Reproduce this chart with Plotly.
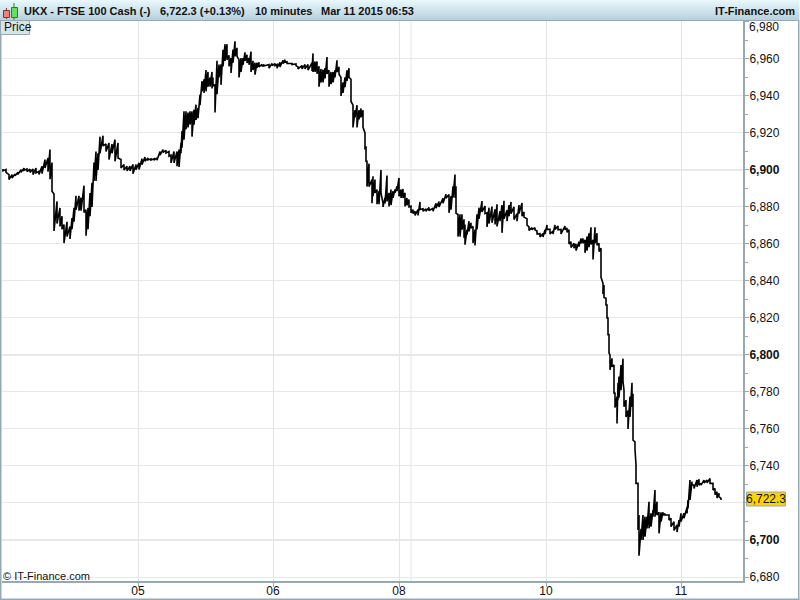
import plotly.graph_objects as go

# bar position, session high and low
bars = [
    3, 6, 9, 12, 15, 18, 21, 24, 27, 30, 33, 36, 39, 42, 45, 48, 50, 52, 54, 57,
    60, 62, 64, 67, 70, 72, 74, 76, 79, 81, 84, 86, 88, 90, 92, 94, 96, 98, 100, 103,
    106, 109, 112, 115, 118, 121, 124, 127, 130, 133, 136, 139, 142, 145, 148, 151, 154, 157, 160, 163,
    166, 169, 171, 174, 177, 179, 181, 182, 184, 186, 188, 190, 192, 194, 196, 198, 200, 202, 204, 206,
    208, 210, 212, 213, 215, 217, 219, 221, 223, 225, 227, 229, 231, 233, 235, 237, 239, 241, 243, 245,
    247, 249, 251, 253, 255, 257, 259, 262, 264, 269, 272, 275, 277, 280, 283, 285, 287, 292, 296, 298,
    302, 305, 308, 312, 313, 315, 317, 319, 321, 323, 325, 327, 329, 331, 333, 335, 337, 339, 341, 343,
    345, 347, 349, 351, 353, 355, 357, 359, 361, 363, 365, 366, 367, 369, 372, 373, 375, 377, 379, 381,
    383, 385, 387, 389, 391, 393, 395, 397, 399, 401, 403, 405, 407, 409, 411, 413, 415, 418, 420, 423,
    426, 429, 433, 436, 439, 443, 446, 449, 451, 453, 455, 456, 458, 460, 462, 464, 465, 467, 469, 471,
    473, 475, 477, 479, 482, 485, 487, 489, 492, 495, 497, 500, 502, 504, 507, 509, 511, 514, 517, 519,
    522, 524, 527, 529, 532, 535, 537, 540, 543, 545, 547, 550, 553, 555, 558, 561, 565, 567, 569, 571,
    574, 576, 579, 581, 583, 585, 587, 589, 591, 593, 595, 597, 599, 601, 603, 604, 606, 607, 608, 609,
    610, 612, 614, 615, 617, 618, 619, 621, 623, 624, 626, 628, 630, 632, 633, 635, 636, 638, 639, 641,
    643, 645, 647, 649, 651, 653, 655, 657, 659, 661, 663, 665, 669, 671, 674, 677, 679, 681, 684, 687,
    688, 690, 692, 694, 697, 699, 701, 704, 707, 710, 713, 715, 717, 719, 721,
]
highs = [
    6900.5, 6900.2, 6897.5, 6897.5, 6897.8, 6898.7, 6900.2, 6901, 6900.5, 6900.5, 6900.5, 6901, 6899.3, 6902, 6905.6, 6906.5, 6911, 6904, 6887, 6883,
    6879.5, 6875, 6870.5, 6872, 6869.5, 6874, 6879.5, 6886, 6886, 6885, 6891.5, 6878.5, 6879.5, 6887.5, 6893, 6904, 6910, 6909, 6918, 6918.5,
    6914, 6914.6, 6914, 6916.4, 6914.6, 6905.6, 6903, 6902, 6902, 6903, 6903, 6903.8, 6906, 6907, 6906.5, 6906, 6906, 6906.5, 6910, 6911,
    6910.6, 6910, 6908, 6910, 6910, 6911, 6914.6, 6921, 6931.7, 6931.7, 6931, 6931.7, 6931.7, 6932.6, 6935.3, 6933.5, 6940.7, 6948, 6949, 6954,
    6953, 6950, 6953, 6950, 6946, 6959, 6957, 6957, 6965, 6968, 6968, 6962, 6960.5, 6965, 6969.5, 6966, 6959.6, 6960.5, 6960.5, 6963.6,
    6962.3, 6960.5, 6964, 6959, 6958, 6958, 6958.2, 6957, 6957, 6957, 6957.5, 6957.5, 6957, 6958.2, 6959.3, 6959.6, 6958.5, 6957.5, 6957.3, 6955.7,
    6956.4, 6957, 6957, 6957.8, 6963, 6958.6, 6958.6, 6956, 6954.6, 6954.2, 6955, 6961, 6953.9, 6953, 6953, 6953.9, 6959.3, 6955.7, 6950, 6947.3,
    6950, 6953.9, 6955, 6949, 6935, 6932.3, 6935, 6932.3, 6933.2, 6932.3, 6920, 6912.8, 6904.7, 6903.4, 6894.8, 6896.6, 6894.8, 6889.4, 6888.5, 6900,
    6882, 6885, 6897, 6887.6, 6889.4, 6888.5, 6889.4, 6891.2, 6895.7, 6889.4, 6889.7, 6887.6, 6884.9, 6884, 6880.4, 6878.6, 6877.7, 6878.6, 6882.7, 6879,
    6879, 6879.7, 6879.3, 6882, 6882.9, 6884.7, 6886.9, 6886.7, 6885.8, 6891.2, 6897.5, 6891.2, 6876, 6876, 6876, 6873.3, 6870.5, 6867.8, 6872.3, 6871.4,
    6869.5, 6867.8, 6876, 6879.6, 6883.2, 6880.5, 6876.9, 6879.6, 6880.2, 6878.7, 6881.4, 6877.7, 6881, 6883.3, 6878.2, 6881, 6882.7, 6880, 6876.4, 6881,
    6882.2, 6877.3, 6873.6, 6869.2, 6868.8, 6868.8, 6867, 6865.6, 6865.6, 6867.7, 6870.3, 6867.9, 6867, 6870.3, 6869.7, 6867.9, 6869.7, 6868.6, 6867.7, 6861.2,
    6860.4, 6860, 6861.2, 6863, 6863, 6862.2, 6864, 6865.8, 6869, 6862.2, 6869, 6865.8, 6860.4, 6857.7, 6838.7, 6837.8, 6830.6, 6827, 6820, 6811,
    6800, 6798.2, 6794.6, 6779.7, 6777.5, 6784.8, 6788.3, 6794.6, 6798, 6781, 6775.6, 6770, 6777.5, 6785, 6779, 6753, 6740.5, 6730.6, 6713.5, 6706,
    6713.5, 6712.6, 6712.6, 6720.7, 6714.4, 6716.2, 6727, 6720.7, 6715, 6715, 6715, 6714.2, 6713.5, 6711.7, 6709.9, 6708.1, 6710.8, 6714.4, 6714.4, 6717.6,
    6721.6, 6732.4, 6731.5, 6729.7, 6732.4, 6732.8, 6730.6, 6732.4, 6732.4, 6733.3, 6730.6, 6727.9, 6726.1, 6725.2, 6722.5,
]
lows = [
    6899.5, 6898.7, 6894.8, 6895.7, 6896.9, 6897.6, 6898.7, 6899.8, 6899.1, 6898.7, 6897.5, 6898.4, 6897.5, 6898, 6901, 6899, 6895, 6888.5, 6867, 6871,
    6869.5, 6868, 6860.5, 6864, 6862.7, 6868, 6872, 6878.5, 6878, 6878, 6877, 6864.5, 6868, 6875, 6880, 6894, 6894, 6900, 6909, 6913,
    6910, 6905.6, 6909, 6904.7, 6906.5, 6901, 6900, 6899.5, 6899.5, 6898, 6900.2, 6900.2, 6903, 6904.7, 6905.4, 6905.3, 6905.3, 6905.3, 6908, 6909.5,
    6909.2, 6907.4, 6903.8, 6903.8, 6902, 6901.6, 6909, 6912, 6916.4, 6922, 6923, 6924.5, 6918, 6924.5, 6927, 6928, 6935, 6942.5, 6941.6, 6942.5,
    6945, 6945, 6944, 6945.5, 6931, 6941, 6950, 6946, 6956, 6959, 6959.6, 6956, 6952.4, 6958, 6961.4, 6961.4, 6950, 6953, 6956.8, 6959,
    6957.8, 6956.8, 6953, 6954, 6951.5, 6955.2, 6955.7, 6956, 6956.2, 6955, 6956.4, 6956.4, 6955, 6955.7, 6957.5, 6958.2, 6957.5, 6957, 6956.4, 6954.6,
    6954.6, 6954.6, 6954, 6953.5, 6953, 6953, 6952, 6945, 6947.3, 6947.3, 6949.5, 6952, 6945, 6946.4, 6947.3, 6950, 6953, 6951.7, 6940, 6941.6,
    6944.7, 6948.2, 6950, 6937, 6923, 6928.4, 6923, 6927.4, 6928.4, 6923, 6911, 6904.7, 6891, 6891, 6882, 6885.8, 6887.6, 6881.5, 6881.5, 6887.6,
    6880, 6881.9, 6883, 6880.3, 6881, 6884.9, 6887.6, 6888.5, 6885.8, 6884.9, 6884.9, 6880.3, 6880.9, 6880, 6876.8, 6876.4, 6875.4, 6875.4, 6878.6, 6877.7,
    6877.7, 6878, 6877.7, 6879.3, 6880, 6882, 6884.7, 6876.8, 6878.5, 6885, 6885, 6876.6, 6864, 6864, 6867.7, 6863.3, 6859.6, 6865, 6866.8, 6868.6,
    6860.5, 6859.2, 6867.8, 6873.6, 6877.3, 6876.4, 6869.2, 6871, 6871.4, 6870.5, 6869.5, 6872.3, 6866, 6873.6, 6872.3, 6875, 6876.4, 6873.2, 6872.3, 6876.4,
    6875, 6874.5, 6870.2, 6867.3, 6867.7, 6867.6, 6865.5, 6863.8, 6863.8, 6865.4, 6867.9, 6865.4, 6865.4, 6867.9, 6867.7, 6865.4, 6867.7, 6866.3, 6860, 6858.1,
    6857.7, 6856.4, 6858.6, 6860.4, 6860.4, 6855.2, 6856.4, 6858.3, 6859.7, 6851.6, 6860.4, 6859.3, 6855.9, 6842, 6833, 6831.1, 6827, 6820, 6811, 6801,
    6792, 6793.7, 6779, 6771.6, 6763, 6775.8, 6776.9, 6781, 6785.6, 6772, 6766.5, 6760, 6766.5, 6772, 6754, 6749, 6730.6, 6705.4, 6691.5, 6700,
    6700, 6701.8, 6706.3, 6706.3, 6707.2, 6712.6, 6712.6, 6713.5, 6703.6, 6709.9, 6713.5, 6713.5, 6710.8, 6707.2, 6705.2, 6704.3, 6707.2, 6710, 6711.7, 6714.4,
    6717, 6721.6, 6729.7, 6727.9, 6728.8, 6729.7, 6729.7, 6730.9, 6730.9, 6730.6, 6727, 6724.5, 6722.7, 6723.4, 6721.6,
]

price_ticks = [6680, 6700, 6720, 6740, 6760, 6780, 6800, 6820, 6840, 6860, 6880, 6900, 6920, 6940, 6960, 6980]
heavy_prices = [6700, 6800, 6900]
# 6,720 sits behind the last-price badge, 6,980 is nudged down inside the frame
unlabelled_prices = [6720, 6980]
day_bars = [138, 273, 399, 546, 681]
day_labels = ["05", "06", "08", "10", "11"]
week_gap_bar = 411

last_price = "6,722.3"
header_left = "UKX - FTSE 100 Cash (-)"
header_quote = "6,722.3 (+0.13%)"
header_time = "10 minutes"
header_date = "Mar 11 2015 06:53"

W = 800
H = 600
M_L = 2
M_R = 56.5
M_T = 21
M_B = 19
FONT = "Liberation Sans"


# paper coordinates only span the plot area, so go via the margins
def px(x):
    return (x - M_L) / (W - M_L - M_R)


def py(y):
    return 1 - (y - M_T) / (H - M_T - M_B)


def pixel_rect(x0, y0, x1, y1, fill, line=None):
    return dict(
        type="rect", xref="paper", yref="paper",
        x0=px(x0), x1=px(x1), y0=py(y0), y1=py(y1),
        fillcolor=fill, line=dict(color=line or fill, width=1 if line else 0),
        layer="above",
    )


def label(x, y, text, anchor="left", size=11, **kw):
    return dict(
        x=px(x), y=py(y), xref="paper", yref="paper", text=text, showarrow=False,
        xanchor=anchor, yanchor="middle", align=anchor,
        font=dict(family=FONT, size=size, color="#111111"),
        borderpad=0, **kw,
    )


# zigzag through high and low of every bar
line_x = []
line_y = []
for b, hi, lo in zip(bars, highs, lows):
    line_x += [b, b]
    line_y += [hi, lo]

fig = go.Figure()
fig.add_trace(
    go.Scatter(
        x=line_x,
        y=line_y,
        mode="lines",
        line=dict(color="#000000", width=1.6),
        showlegend=False,
        hoverinfo="skip",
    )
)

for p in heavy_prices:
    fig.add_hline(y=p, line=dict(color="#cfd1d2", width=1), layer="below")
fig.add_vline(x=week_gap_bar, line=dict(color="#e4e4e4", width=1), layer="below")

# header band, drawn as thin strips to get the gradient
shapes = list(fig.layout.shapes)
top = (232, 247, 252)
bottom = (184, 209, 221)
for i in range(20):
    t = i / 19
    c = [round(top[k] + (bottom[k] - top[k]) * t) for k in range(3)]
    shapes.append(pixel_rect(0, i, W, i + 1, "rgb(%d,%d,%d)" % tuple(c)))
shapes.append(pixel_rect(0, 20, W, 21, "#95a8b3"))

# the little candle icon
shapes.append(dict(type="line", xref="paper", yref="paper", x0=px(14), x1=px(14), y0=py(3), y1=py(20),
                   line=dict(color="#2f7a2f", width=1)))
shapes.append(dict(type="line", xref="paper", yref="paper", x0=px(6.5), x1=px(6.5), y0=py(8), y1=py(19),
                   line=dict(color="#7a3a3a", width=1)))
shapes.append(pixel_rect(3.5, 10.5, 9.5, 17.5, "#f08080", "#7a3a3a"))
shapes.append(pixel_rect(11.5, 7.5, 17.5, 17.5, "#66dd66", "#2f7a2f"))

# frame
shapes.append(pixel_rect(0, 21, 1.5, H, "#95a8b3"))
shapes.append(pixel_rect(0, 598.5, W, H, "#95a8b3"))
shapes.append(pixel_rect(798.5, 21, W, H, "#95a8b3"))
shapes.append(pixel_rect(0.5, 20.5, 29.5, 34.5, "#d5e4eb", "#95a8b3"))
# last-price badge
shapes.append(pixel_rect(747, 492, 786, 506, "#fdd20a", "#95a8b3"))

annotations = [
    label(23, 11, "<b>" + header_left + "</b>", size=11),
    label(159, 11, "<b>" + header_quote + "</b>", size=11),
    label(254, 11, "<b>" + header_time + "</b>", size=11),
    label(320, 11, "<b>" + header_date + "</b>", size=11),
    label(797, 11, "<b>IT-Finance.com</b>", anchor="right", size=11),
    label(3, 27.5, "Price", size=12),
    label(2, 575.5, "© IT-Finance.com", size=11),
    label(749, 27, "6,980", size=12),
    label(766.5, 499, last_price, anchor="center", size=12),
]

tick_text = []
for p in price_ticks:
    s = f"{p:,}"
    if p in heavy_prices:
        s = "<b>" + s + "</b>"
    if p in unlabelled_prices:
        s = ""
    tick_text.append(s)

fig.update_layout(
    width=W,
    height=H,
    margin=dict(l=M_L, r=M_R, t=M_T, b=M_B),
    paper_bgcolor="#ffffff",
    plot_bgcolor="#ffffff",
    font=dict(family=FONT, size=12, color="#111111"),
    xaxis=dict(
        range=[2, 743],
        automargin=False,
        tickmode="array",
        tickvals=day_bars,
        ticktext=day_labels,
        ticks="outside",
        ticklen=4,
        ticklabelstandoff=-6,
        tickcolor="#95a8b3",
        showgrid=True,
        gridcolor="#e4e4e4",
        gridwidth=1,
        showline=True,
        linecolor="#95a8b3",
        linewidth=2,
        zeroline=False,
        tickfont=dict(family=FONT, size=12, color="#111111"),
    ),
    yaxis=dict(
        range=[6677.84, 6980.5],
        automargin=False,
        side="right",
        tickmode="array",
        tickvals=price_ticks,
        ticktext=tick_text,
        ticks="outside",
        ticklen=4,
        ticklabelstandoff=-2,
        tickcolor="#95a8b3",
        minor=dict(dtick=20, tick0=6690, ticks="outside", ticklen=3, tickcolor="#95a8b3", showgrid=False),
        showgrid=True,
        gridcolor="#e8e8e8",
        gridwidth=1,
        showline=True,
        linecolor="#95a8b3",
        linewidth=2,
        zeroline=False,
        tickfont=dict(family=FONT, size=12, color="#111111"),
    ),
    shapes=shapes,
    annotations=annotations,
)

fig.write_html(
    "out.html",
    config=dict(displayModeBar=False),
    post_script="document.body.style.margin='0';",
)
